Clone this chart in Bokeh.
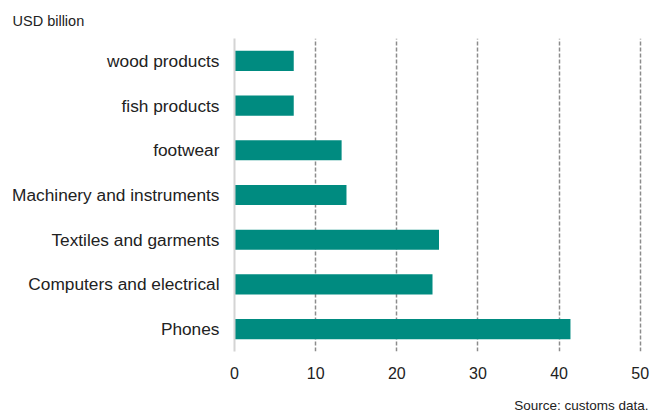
from bokeh.plotting import figure
from bokeh.models import FactorRange, Title
from bokeh.embed import file_html
from bokeh.resources import INLINE

categories = ["Phones", "Computers and electrical", "Textiles and garments",
              "Machinery and instruments", "footwear", "fish products", "wood products"]
values = [41.4, 24.4, 25.2, 13.8, 13.2, 7.3, 7.3]
x_ticks = [0, 10, 20, 30, 40, 50]

FONT = "Liberation Sans"
W, H = 661, 414
FL, FR, FT, FB = 234, 643, 38, 351  # frame edges in canvas px

p = figure(width=W, height=H, output_backend="svg", toolbar_location=None,
           y_range=FactorRange(factors=categories, range_padding=0),
           x_range=(0, 50.4))
p.min_border_left = FL
p.min_border_top = FT
p.min_border_bottom = H - FB
p.min_border_right = W - FR
p.outline_line_color = None
p.background_fill_color = "white"
p.border_fill_color = "white"

p.hbar(y=categories, right=values, left=0, height=0.45, color="#008B80", line_color=None)

p.xaxis.ticker = x_ticks
p.xaxis.axis_line_color = None
p.xaxis.major_tick_line_color = None
p.xaxis.minor_tick_line_color = None
p.xaxis.major_label_text_font = FONT
p.xaxis.major_label_text_font_size = "16px"
p.xaxis.major_label_text_color = "#222222"
p.xaxis.major_label_standoff = 9
# invisible spacer label that pushes the source note further down
p.xaxis.axis_label = " "
p.xaxis.axis_label_standoff = 0
p.xaxis.axis_label_text_font_size = "10px"

p.yaxis.axis_line_color = "#d4d4d4"
p.yaxis.axis_line_width = 2
p.yaxis.major_tick_line_color = None
p.yaxis.minor_tick_line_color = None
p.yaxis.major_label_text_font = FONT
p.yaxis.major_label_text_font_size = "17.3px"
p.yaxis.major_label_text_color = "#222222"
p.yaxis.major_label_standoff = 9

p.ygrid.grid_line_color = None
p.xgrid.grid_line_color = "#8c8c8c"
p.xgrid.grid_line_width = 1.5
p.xgrid.grid_line_dash = "4 2"

p.add_layout(Title(text="USD billion", align="left", offset=12 - FL, standoff=20,
                   text_font=FONT, text_font_size="14.5px", text_font_style="normal",
                   text_color="#222222"), "above")
p.add_layout(Title(text="Source: customs data.", align="right", offset=FR - 648, standoff=1,
                   text_font=FONT, text_font_size="13.5px", text_font_style="normal",
                   text_color="#222222"), "below")

open("out.html", "w").write(file_html(p, INLINE))
